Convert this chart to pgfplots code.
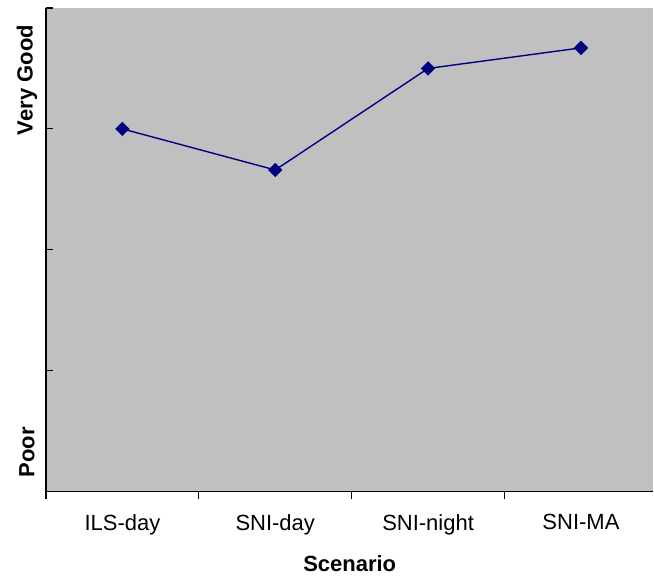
\documentclass[border=0pt]{standalone}
\usepackage{pgfplots}
\pgfplotsset{compat=1.18}
\usepackage{fontspec}
\setmainfont{Liberation Sans}
\definecolor{plotgray}{RGB}{192,192,192}
\definecolor{navyline}{RGB}{0,0,128}
\begin{document}
\begin{tikzpicture}
\begin{axis}[
    scale only axis,
    width=304pt, height=242pt,
    xmin=-0.5, xmax=3.474,
    ymin=0, ymax=4,
    axis x line=bottom, axis y line=left,
    axis line style={-, black, line width=0.6pt},
    axis background/.style={fill=plotgray},
    xtick={-0.5,0.5,1.5,2.5},
    xticklabels={},
    extra x ticks={0,1,2,3},
    extra x tick labels={ILS-day,SNI-day,SNI-night,SNI-MA},
    extra x tick style={major tick length=0pt},
    x tick style={black, line width=0.6pt},
    xtick align=outside,
    major tick length=3.5pt,
    ytick={0,1,2,3,4},
    yticklabels={},
    y tick style={black, line width=0.6pt},
    ytick align=inside,
    tick label style={font=\fontsize{11}{13}\selectfont},
    xticklabel style={yshift=-8pt},
    xlabel={\bfseries Scenario},
    xlabel style={font=\fontsize{11}{13}\selectfont, yshift=0pt},
    clip=false,
]
\addplot[navyline, line width=0.7pt, mark=square*, mark size=2.2pt,
    mark options={rotate=45, fill=navyline, draw=navyline}]
    coordinates {(0,3.00) (1,2.66) (2,3.50) (3,3.67)};
\node[rotate=90, font=\fontsize{11}{13}\selectfont\bfseries]
    at ([xshift=-9.5pt]rel axis cs:0,0.851) {Very Good};
\node[rotate=90, font=\fontsize{11}{13}\selectfont\bfseries]
    at ([xshift=-9.5pt]rel axis cs:0,0.081) {Poor};
\path ([xshift=-23pt]rel axis cs:0,0.5) coordinate (leftedge);
\path (leftedge) -- ++(0.1pt,0);
\path ([yshift=4pt]rel axis cs:0,1) -- ++(0.1pt,0);
\end{axis}
\end{tikzpicture}
\end{document}
